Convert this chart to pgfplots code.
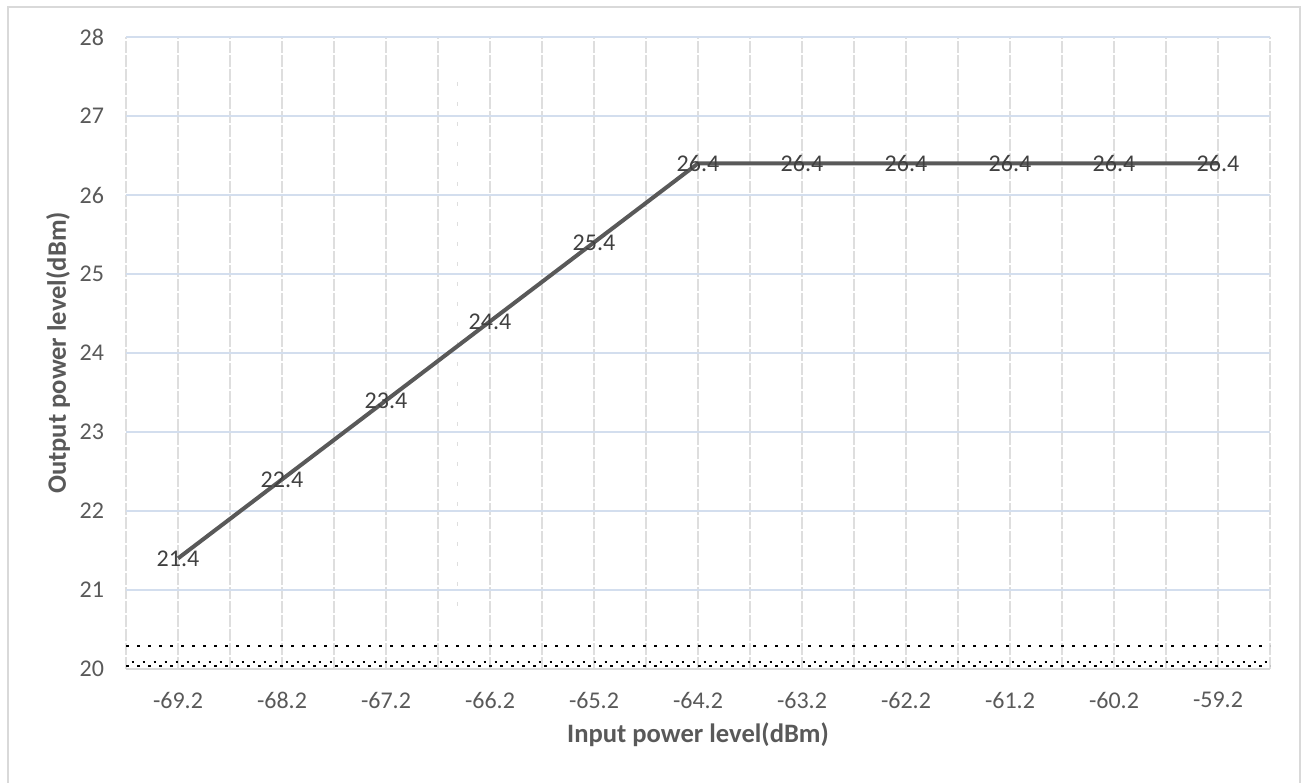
\documentclass[border=0pt]{standalone}
\usepackage{fontspec}
\setmainfont{Carlito}
\usepackage{pgfplots}
\pgfplotsset{compat=1.18}
\definecolor{tickgray}{HTML}{595959}
\definecolor{labgray}{HTML}{404040}
\definecolor{linegray}{HTML}{595959}
\definecolor{hgrid}{HTML}{D3DEEE}
\definecolor{vgrid}{HTML}{DEDEDE}
\definecolor{framegray}{HTML}{D9D9D9}
\begin{document}
\begin{tikzpicture}
\useasboundingbox (0,0) rectangle (653pt,391pt);
\draw[framegray, line width=1.2pt] (4pt,-10pt) rectangle (650pt,387.5pt);
\begin{axis}[
  at={(63pt,56.5pt)}, anchor=south west,
  scale only axis, width=572pt, height=316pt,
  xmin=-0.5, xmax=10.5, ymin=20, ymax=28,
  xtick={0,...,10},
  xticklabels={-69.2,-68.2,-67.2,-66.2,-65.2,-64.2,-63.2,-62.2,-61.2,-60.2,-59.2},
  minor xtick={-0.5,0.5,...,10.5},
  ytick={20,...,28},
  xmajorgrids, xminorgrids, ymajorgrids,
  major x grid style={vgrid, line width=1.1pt, dash pattern=on 6pt off 1pt},
  minor x grid style={vgrid, line width=0.8pt, dash pattern=on 6pt off 1pt},
  major y grid style={hgrid, line width=0.8pt},
  axis line style={draw=none},
  major tick length=0pt, minor tick length=0pt,
  tick label style={font=\fontsize{12}{14}\selectfont, text=tickgray},
  xticklabel style={yshift=-8pt},
  yticklabel style={xshift=-7.5pt},
  /pgf/number format/assume math mode=true,
  xlabel={Input power level(dBm)},
  ylabel={Output power level(dBm)},
  label style={font=\fontsize{13.3}{16}\selectfont\bfseries, text=tickgray},
  xlabel style={at={(axis description cs:0.5,-0.1044)}, anchor=center},
  ylabel style={at={(axis description cs:-0.0594,0.5)}, anchor=center},
  clip=false,
]
% faint dotted vertical artefact
\addplot[vgrid, line width=0.6pt, dash pattern=on 2pt off 8pt, forget plot]
  coordinates {(2.69,20.8) (2.69,27.6)};
% dotted rows near the bottom
\addplot[black, line width=1.3pt, dash pattern=on 1.3pt off 4.2pt, forget plot]
  coordinates {(-0.5,20.29) (10.5,20.29)};
\addplot[black, line width=1.3pt, dash pattern=on 1.3pt off 4.2pt, dash phase=2.75pt, forget plot]
  coordinates {(-0.5,20.09) (10.5,20.09)};
\addplot[black, line width=1.3pt, dash pattern=on 1.3pt off 4.2pt, forget plot]
  coordinates {(-0.5,20.04) (10.5,20.04)};
% bottom axis line
\addplot[framegray, line width=1pt, forget plot]
  coordinates {(-0.5,20) (10.5,20)};
% data
\addplot[linegray, line width=2pt, mark=none,
  point meta=explicit symbolic,
  nodes near coords,
  nodes near coords style={anchor=center, font=\fontsize{12}{14}\selectfont, text=labgray}]
  coordinates {
  (0,21.4) [21.4]
  (1,22.4) [22.4]
  (2,23.4) [23.4]
  (3,24.4) [24.4]
  (4,25.4) [25.4]
  (5,26.4) [26.4]
  (6,26.4) [26.4]
  (7,26.4) [26.4]
  (8,26.4) [26.4]
  (9,26.4) [26.4]
  (10,26.4) [26.4]
  };
\end{axis}
\end{tikzpicture}
\end{document}
